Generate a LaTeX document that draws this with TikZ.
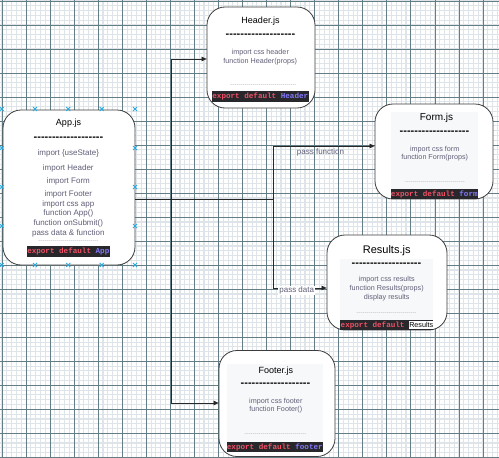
\documentclass[tikz,border=0pt]{standalone}
\usepackage{fontspec}
\setmainfont{Liberation Sans}
\newfontfamily\barmono{Liberation Mono}
\usetikzlibrary{arrows.meta,calc}
\definecolor{gridminor}{RGB}{222,228,231}
\definecolor{gridmajor}{RGB}{100,125,135}
\definecolor{boxline}{RGB}{60,60,60}
\definecolor{bodytext}{RGB}{95,95,120}
\definecolor{barbg}{RGB}{40,40,44}
\definecolor{kwred}{RGB}{240,80,100}
\definecolor{kwblue}{RGB}{130,120,250}
\definecolor{markercol}{RGB}{41,170,225}
\definecolor{panelcol}{RGB}{247,248,250}
\definecolor{conncol}{RGB}{40,40,40}
\definecolor{greyrowcol}{RGB}{180,180,185}
\newcommand\hyrow[1]{\foreach \hk in {1,...,#1}{-{}}}
\begin{document}
\begin{tikzpicture}[x=1pt,y=-1pt,
  box/.style={draw=boxline, fill=white, line width=0.8pt, rounded corners=18pt, inner sep=0pt},
  ttl/.style={text=black, inner sep=0pt, text height=1.5ex, text depth=0.3ex},
  body/.style={text=bodytext, inner sep=0pt, text height=1.5ex, text depth=0.3ex, font=\fontsize{7.2}{8}\selectfont},
  appbody/.style={body, font=\fontsize{8}{9}\selectfont},
  dashrow/.style={text=black, inner sep=0pt, font=\bfseries\fontsize{11}{12}\selectfont},
  greyrow/.style={text=greyrowcol, inner sep=0pt, font=\fontsize{6}{7}\selectfont},
  bar/.style={fill=barbg, inner sep=0pt, font=\barmono\bfseries\fontsize{7.6}{8}\selectfont, text=kwred},
  conn/.style={draw=conncol, line width=0.7pt, -{Triangle[length=5pt,width=4.5pt]}},
  lbl/.style={text=bodytext, inner sep=1pt, font=\fontsize{8}{9}\selectfont},
  markst/.style={draw=markercol, line width=0.9pt}
]
\useasboundingbox (0,0) rectangle (499,458);
% grid
\foreach \i in {0,...,104} \draw[gridminor, line width=1.1pt] ({2+4.81*(\i-1)},0) -- ++(0,458);
\foreach \i in {0,...,96} \draw[gridminor, line width=1.1pt] (0,{1+4.804*\i}) -- ++(499,0);
\foreach \k in {0,...,20} \draw[gridmajor, line width=0.8pt] ({2+24.05*\k},0) -- ++(0,458);
\foreach \k in {0,...,19} \draw[gridmajor, line width=0.8pt] (0,{1+24.02*\k}) -- ++(499,0);

% boxes
\node[box, minimum width=132pt, minimum height=155pt] (app) at (69,187.5) {};
\node[box, minimum width=108pt, minimum height=101pt] (header) at (261,57.5) {};
\node[box, minimum width=118pt, minimum height=95pt] (form) at (434,151.5) {};
\node[box, minimum width=120pt, minimum height=95pt] (results) at (387,282.5) {};
\node[box, minimum width=116pt, minimum height=106pt] (footer) at (277,403.5) {};

% panels
\fill[panelcol] (390.7,112) rectangle (478,199);
\fill[panelcol] (340,259) rectangle (433,330);
\fill[panelcol] (227,364) rectangle (323,451);

% App.js
\node[ttl, font=\fontsize{9}{10}\selectfont] (apptitle) at (68.5,122.5) {App.js};
\node[dashrow] (appdash) at (68.5,138.5) {\hyrow{19}};
\foreach \y/\t [count=\n] in {152.7/{import \{useState\}}, 167.3/{import Header}, 180.3/{import Form}, 193.3/{import Footer}, 203.3/{import css app}, 212.3/{function App()}, 222.3/{function onSubmit()}, 232.3/{pass data \& function}}
  \node[appbody] (appl\n) at (68.3,\y) {\t};
\node[greyrow] (appgrey) at (68.3,241.7) {\hyrow{30}};
\node[bar, minimum width=83.3pt, minimum height=11pt] (appbar) at (68.3,251.5) {export default \textcolor{kwblue}{App}};

% Header.js
\node[ttl, font=\fontsize{9}{10}\selectfont] (htitle) at (260.5,20) {Header.js};
\node[dashrow] (hdash) at (260.5,35.5) {\hyrow{19}};
\node[body] (hl1) at (260.3,51) {import css header};
\node[body] (hl2) at (260.3,60) {function Header(props)};
\node[greyrow] (hgrey) at (263.3,86) {\hyrow{33}};
\node[bar, minimum width=97.3pt, minimum height=11pt] (hbar) at (260.3,96) {export default \textcolor{kwblue}{Header}};

% Form.js
\node[ttl, font=\fontsize{10}{11}\selectfont] (ftitle) at (436.5,117.7) {Form.js};
\node[dashrow] (fdash) at (434.5,132.5) {\hyrow{19}};
\node[body] (fl1) at (434.7,148) {import css form};
\node[body] (fl2) at (434.7,156.7) {function Form(props)};
\node[greyrow] (fgrey) at (434.8,183) {\hyrow{30}};
\node[bar, minimum width=87.3pt, minimum height=10pt] (fbar) at (434.3,194) {export default \textcolor{kwblue}{form}};

% Results.js
\node[ttl, font=\fontsize{11}{12}\selectfont] (rtitle) at (386.7,250.7) {Results.js};
\node[dashrow] (rdash) at (386.5,264.5) {\hyrow{19}};
\node[body] (rl1) at (386.7,278) {import css results};
\node[body] (rl2) at (386.7,287) {function Results(props)};
\node[body] (rl3) at (386.7,296.7) {display results};
\node[greyrow] (rgrey) at (386.5,314) {\hyrow{30}};
\node[bar, minimum width=93pt, minimum height=10pt] (rbar) at (386.5,325) {};
\node[bar, fill=none, anchor=west] (rexp) at (340.5,325) {export default};
\node[fill=white, inner sep=0pt, minimum width=24pt, minimum height=8.6pt, text=black, font=\fontsize{7.2}{8}\selectfont] (rres) at (421.3,325) {Results};

% Footer.js
\node[ttl, font=\fontsize{9}{10}\selectfont] (fttitle) at (275.8,370) {Footer.js};
\node[dashrow] (ftdash) at (275.5,384.5) {\hyrow{19}};
\node[body] (ftl1) at (275.8,400) {import css footer};
\node[body] (ftl2) at (275.8,408.5) {function Footer()};
\node[greyrow] (ftgrey) at (275.5,435) {\hyrow{31}};
\node[bar, minimum width=96.3pt, minimum height=9.5pt] (ftbar) at (274.8,447) {export default \textcolor{kwblue}{footer}};

% connectors
\coordinate (ay) at (135,199);
\coordinate (tl) at (171,59);
\coordinate (tb) at (171,403);
\coordinate (tf) at (273,146);
\coordinate (tr) at (273,288);
\draw[conn] (app.east |- ay) -| (tl) -- (header.west |- tl);
\draw[conn] (app.east |- ay) -| (tb) -- (footer.west |- tb);
\draw[conn] (app.east |- ay) -| (tf) -- (form.west |- tf);
\draw[conn] (app.east |- ay) -| (tr) -- (results.west |- tr);
\node[lbl] (pf) at (320.5,152) {pass function};
\node[lbl, fill=white] (pd) at (296.7,290.5) {pass data};

% selection markers
\foreach \x in {1.7,35,68.3,101.7,135} \foreach \y in {109,265}
  \draw[markst] ({\x-2},{\y-2}) -- ({\x+2},{\y+2}) ({\x-2},{\y+2}) -- ({\x+2},{\y-2});
\foreach \x in {1.7,135} \foreach \y in {148,187,226}
  \draw[markst] ({\x-2},{\y-2}) -- ({\x+2},{\y+2}) ({\x-2},{\y+2}) -- ({\x+2},{\y-2});
\end{tikzpicture}
\end{document}
